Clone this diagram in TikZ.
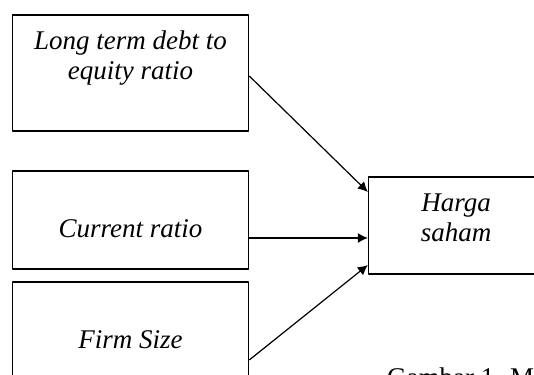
\documentclass[tikz,border=0pt]{standalone}
\usepackage{fontspec}
\setmainfont{Liberation Serif}
\usetikzlibrary{arrows.meta}
\tikzset{
	kotak/.style={draw,line width=1.3pt,inner sep=0pt},
	teks/.style={inner sep=0pt,align=center,font=\fontsize{27}{30}\selectfont\itshape},
}
\begin{document}
\begin{tikzpicture}[x=1pt,y=-1pt,line join=round,>={Latex[length=10pt,width=10pt]}]
	\useasboundingbox (0,0) rectangle (534,374);
	% === Variabel bebas ===
	\node[kotak,minimum width=236pt,minimum height=116pt] (ltd) at (130.6,73) {};
	\node[teks] (ltdt) at (130.6,58) {Long term debt to\\equity ratio};
	\node[kotak,minimum width=236pt,minimum height=98pt] (cr) at (130.6,220) {};
	\node[teks] (crt) at (130.6,229) {Current ratio};
	\node[kotak,minimum width=236pt,minimum height=98pt] (fs) at (130.6,331) {};
	\node[teks] (fst) at (130.6,340) {Firm Size};
	% === Variabel terikat ===
	\node[kotak,minimum width=175pt,minimum height=97pt] (hs) at (456,225.5) {};
	\node[teks] (hst) at (456,218) {Harga\\saham};
	% === Panah ===
	\draw[->,line width=1.2pt] ([yshift=-3pt]ltd.east) -- ([yshift=33.5pt]hs.west);
	\draw[->,line width=1.2pt] ([yshift=-18pt]cr.east) -- ([yshift=-12.5pt]hs.west);
	\draw[->,line width=1.2pt] ([yshift=-29pt]fs.east) -- ([yshift=-39.5pt]hs.west);
	% === Judul ===
	\node[anchor=base west,inner sep=0pt,font=\fontsize{27}{30}\selectfont] (judul) at (387,386) {Gambar 1. M};
\end{tikzpicture}
\end{document}
